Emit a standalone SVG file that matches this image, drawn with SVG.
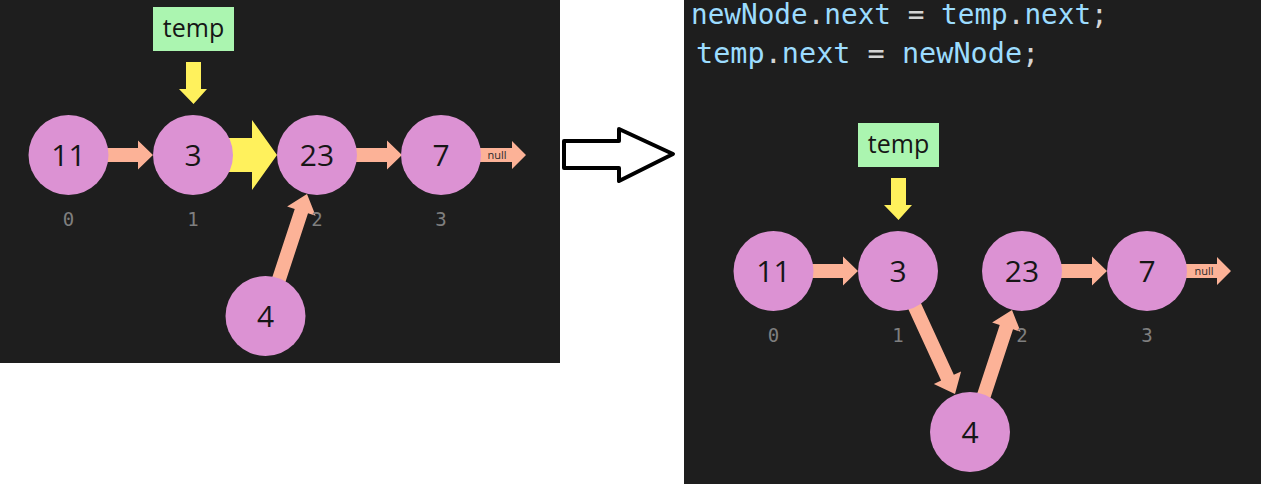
<svg xmlns="http://www.w3.org/2000/svg" width="1261" height="484" viewBox="0 0 1261 484">
<defs>
<style>
.bg{fill:#1e1e1e}
.nd{fill:#dc92d3}
.nt{font-family:"Open Sans","Liberation Sans",sans-serif;font-size:30px;fill:#161616;text-anchor:middle}
.ix{font-family:"DejaVu Sans Mono","Liberation Mono",monospace;font-size:19px;fill:#7f7f7f;text-anchor:middle}
.ar{fill:#fcb297}
.ya{fill:#fff15c}
.tb{fill:#abf5b0}
.tt{font-family:"Open Sans","Liberation Sans",sans-serif;font-size:25px;fill:#161616;text-anchor:middle}
.nl{font-family:"Open Sans","Liberation Sans",sans-serif;font-size:11px;fill:#2a2a2a;text-anchor:middle}
.cd{font-family:"DejaVu Sans Mono","Liberation Mono",monospace;fill:#9cdcfe}
.pu{fill:#d4d4d4}
</style>
</defs>
<rect x="0" y="0" width="1261" height="484" fill="#ffffff"/>
<rect class="bg" x="0" y="0" width="560" height="363"/>
<rect class="bg" x="684" y="0" width="577" height="484"/>

<g id="code">
<text class="cd" x="691" y="24" font-size="27.7">newNode<tspan class="pu">.</tspan>next <tspan class="pu">=</tspan> temp<tspan class="pu">.</tspan>next<tspan class="pu">;</tspan></text>
<text class="cd" x="696" y="63" font-size="28.5">temp<tspan class="pu">.</tspan>next <tspan class="pu">=</tspan> newNode<tspan class="pu">;</tspan></text>
</g>

<g id="transition-arrow">
<polygon points="564,141 619,141 619,129 673,154 619,181 619,168 564,168" fill="#ffffff" stroke="#000000" stroke-width="4" stroke-linejoin="round"/>
</g>

<g id="connectors">
<!-- left panel -->
<polygon class="ya" points="186,62 201,62 201,89 207,89 193.5,104 179,89 186,89"/>
<polygon class="ar" points="100,148 138,148 138,140.5 153,155 138,169.5 138,162 100,162"/>
<polygon class="ya" points="225,138 252,138 252,120 277,155 252,190 252,172 225,172"/>
<polygon class="ar" points="350,148 387,148 387,140.5 402,155 387,169.5 387,162 350,162"/>
<polygon class="ar" points="478,148 512,148 512,141 526,155 512,169 512,162 478,162"/>
<g transform="translate(307,194) rotate(-71.8)"><polygon class="ar" points="0,0 -18,-15 -18,-7 -118,-7 -118,7 -18,7 -18,15"/></g>
<!-- right panel -->
<polygon class="ya" points="891,178 906,178 906,205 912,205 898.5,220 884,205 891,205"/>
<polygon class="ar" points="805,264 843,264 843,256.5 858,271 843,285.5 843,278 805,278"/>
<polygon class="ar" points="1055,264 1092,264 1092,256.5 1107,271 1092,285.5 1092,278 1055,278"/>
<polygon class="ar" points="1183,264 1217,264 1217,257 1231,271 1217,285 1217,278 1183,278"/>
<g transform="translate(955,394) rotate(65.3)"><polygon class="ar" points="0,0 -18,-15 -18,-7 -125,-7 -125,7 -18,7 -18,15"/></g>
<g transform="translate(1012,310) rotate(-71.8)"><polygon class="ar" points="0,0 -18,-15 -18,-7 -118,-7 -118,7 -18,7 -18,15"/></g>
<text class="nl" x="497" y="159">null</text>
<text class="nl" x="1204" y="275">null</text>
</g>

<g id="temp-left">
<rect class="tb" x="153" y="7" width="81" height="44"/>
<text class="tt" x="193.5" y="37">temp</text>
</g>
<g id="temp-right">
<rect class="tb" x="858" y="123" width="81" height="44"/>
<text class="tt" x="898.5" y="153">temp</text>
</g>

<g id="L-node-11"><circle class="nd" cx="68.5" cy="155" r="40"/><text class="nt" x="68.5" y="166">11</text><text class="ix" x="68.5" y="226">0</text></g>
<g id="L-node-3"><circle class="nd" cx="193" cy="155" r="40"/><text class="nt" x="193" y="166">3</text><text class="ix" x="193" y="226">1</text></g>
<g id="L-node-23"><circle class="nd" cx="317" cy="155" r="40"/><text class="nt" x="317" y="166">23</text><text class="ix" x="317" y="226">2</text></g>
<g id="L-node-7"><circle class="nd" cx="441" cy="155" r="40"/><text class="nt" x="441" y="166">7</text><text class="ix" x="441" y="226">3</text></g>
<g id="L-node-4"><circle class="nd" cx="265.5" cy="316" r="40"/><text class="nt" x="265.5" y="327">4</text></g>

<g id="R-node-11"><circle class="nd" cx="773.5" cy="271" r="40"/><text class="nt" x="773.5" y="282">11</text><text class="ix" x="773.5" y="342">0</text></g>
<g id="R-node-3"><circle class="nd" cx="898" cy="271" r="40"/><text class="nt" x="898" y="282">3</text><text class="ix" x="898" y="342">1</text></g>
<g id="R-node-23"><circle class="nd" cx="1022" cy="271" r="40"/><text class="nt" x="1022" y="282">23</text><text class="ix" x="1022" y="342">2</text></g>
<g id="R-node-7"><circle class="nd" cx="1147" cy="271" r="40"/><text class="nt" x="1147" y="282">7</text><text class="ix" x="1147" y="342">3</text></g>
<g id="R-node-4"><circle class="nd" cx="970" cy="432" r="40"/><text class="nt" x="970" y="443">4</text></g>
</svg>
